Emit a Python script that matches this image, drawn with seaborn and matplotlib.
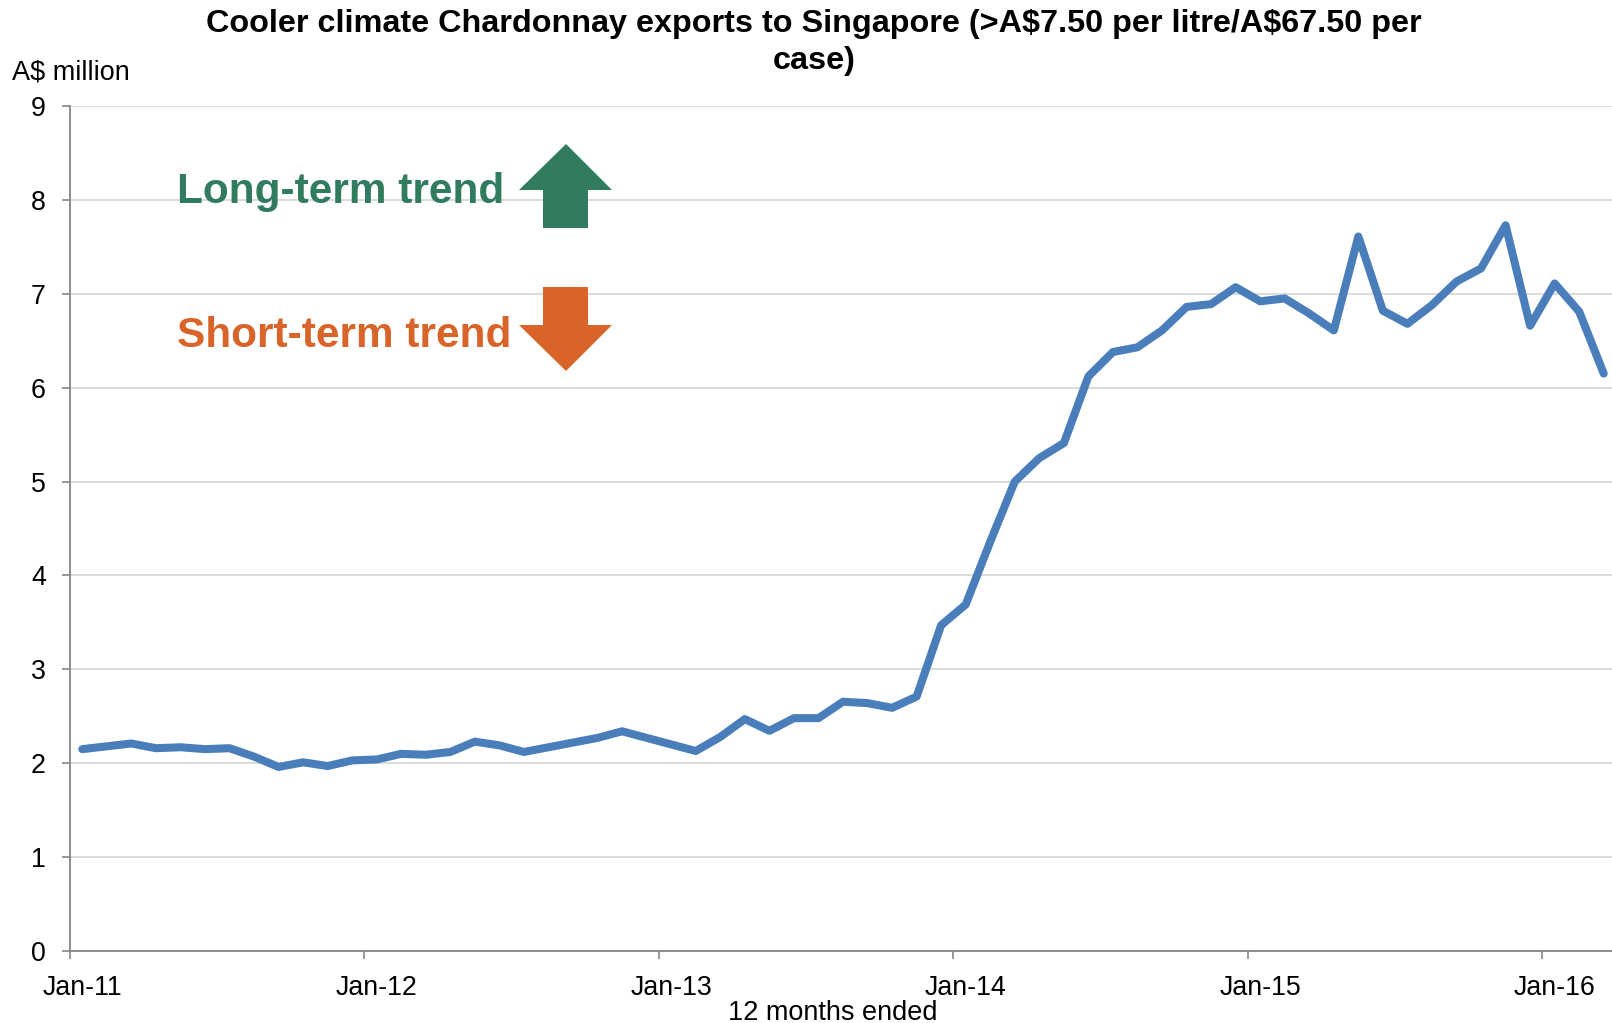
import matplotlib
matplotlib.use("Agg")
import matplotlib.pyplot as plt
import seaborn as sns
import pandas as pd
from matplotlib.patches import Polygon

# ---- data ----
months = pd.date_range("2011-01-01", periods=63, freq="MS").strftime("%b-%y").tolist()
values = [2.15, 2.18, 2.21, 2.16, 2.17, 2.15, 2.16, 2.07, 1.96, 2.01, 1.97, 2.03,
          2.04, 2.10, 2.09, 2.12, 2.23, 2.19, 2.12, 2.17, 2.22, 2.27, 2.34, 2.27,
          2.20, 2.13, 2.28, 2.47, 2.345, 2.48, 2.48, 2.655, 2.64, 2.59, 2.71, 3.47,
          3.69, 4.36, 5.00, 5.25, 5.41, 6.12, 6.38, 6.43, 6.61, 6.86, 6.89, 7.07,
          6.92, 6.95, 6.79, 6.61, 7.61, 6.82, 6.68, 6.88, 7.13, 7.27, 7.73, 6.66,
          7.11, 6.81, 6.15]
tick_labels = ["Jan-11", "Jan-12", "Jan-13", "Jan-14", "Jan-15", "Jan-16"]
yticks = [0, 1, 2, 3, 4, 5, 6, 7, 8, 9]

title = "Cooler climate Chardonnay exports to Singapore (>A$7.50 per litre/A$67.50 per\ncase)"

sns.set_style("white")
plt.rcParams['font.family'] = ['Liberation Sans', 'DejaVu Sans']
plt.rcParams['text.parse_math'] = False
plt.rcParams['text.color'] = 'black'

W, H = 1612, 1023
fig = plt.figure(figsize=(W / 100, H / 100), dpi=100)
ax = fig.add_axes([70 / W, 1 - 951 / H, (1616 - 70) / W, (951 - 106) / H])

df = pd.DataFrame({"month": months, "idx": range(len(values)), "value": values})
sns.lineplot(data=df, x="idx", y="value", ax=ax, color="#4A7EBB", lw=5.8)

ax.set_xlim(-0.5, len(values) - 0.5)
ax.set_ylim(0, 9)
ax.set_xlabel("")
ax.set_ylabel("")
ax.set_axisbelow(True)
ax.yaxis.grid(True, color="#D9D9D9", lw=1.3)
ax.xaxis.grid(False)

jan_idx = [i for i, m in enumerate(months) if m.startswith("Jan")]
ax.set_xticks(jan_idx)
ax.set_xticklabels(tick_labels)
ax.set_xticks([i - 0.5 for i in jan_idx], minor=True)
ax.tick_params(axis="x", which="major", length=0, pad=17, labelsize=19.3,
               labelcolor="black")
ax.tick_params(axis="x", which="minor", length=5.8, width=1.2, color="#868686", bottom=True)
ax.set_yticks(yticks)
ax.tick_params(axis="y", which="major", length=5.8, width=1.2, color="#868686", pad=11.5,
               labelsize=19.3, left=True, labelcolor="black")

for s in ["top", "right"]:
    ax.spines[s].set_visible(False)
for s in ["left", "bottom"]:
    ax.spines[s].set_color("#868686")
    ax.spines[s].set_linewidth(1.3)

def fx(x):
    return x / W

def fy(y):
    return 1 - y / H

fig.text(fx(814), fy(42.5), title, ha="center", va="center", fontsize=23.3,
         fontweight="bold", linespacing=1.32, color="black")
fig.text(fx(12), fy(72), "A$ million", ha="left", va="center", fontsize=19.5, color="black")
fig.text(fx(833), fy(1013), "12 months ended", ha="center", va="center", fontsize=19.5,
         color="black")

fig.text(fx(177), fy(203), "Long-term trend", ha="left", va="baseline", fontsize=30.5,
         fontweight="bold", color="#317B5F")
fig.text(fx(177), fy(347), "Short-term trend", ha="left", va="baseline", fontsize=30.5,
         fontweight="bold", color="#D9642A")

up = [(566, 144), (612, 190), (588, 190), (588, 228), (543, 228), (543, 190), (519, 190)]
down = [(543, 287), (588, 287), (588, 325), (612, 325), (566, 371), (519, 325), (543, 325)]
fig.add_artist(Polygon([(fx(x), fy(y)) for x, y in up], closed=True,
                       transform=fig.transFigure, facecolor="#317B5F", edgecolor="none"))
fig.add_artist(Polygon([(fx(x), fy(y)) for x, y in down], closed=True,
                       transform=fig.transFigure, facecolor="#D9642A", edgecolor="none"))

fig.savefig("out.png", dpi=100, facecolor="white")
